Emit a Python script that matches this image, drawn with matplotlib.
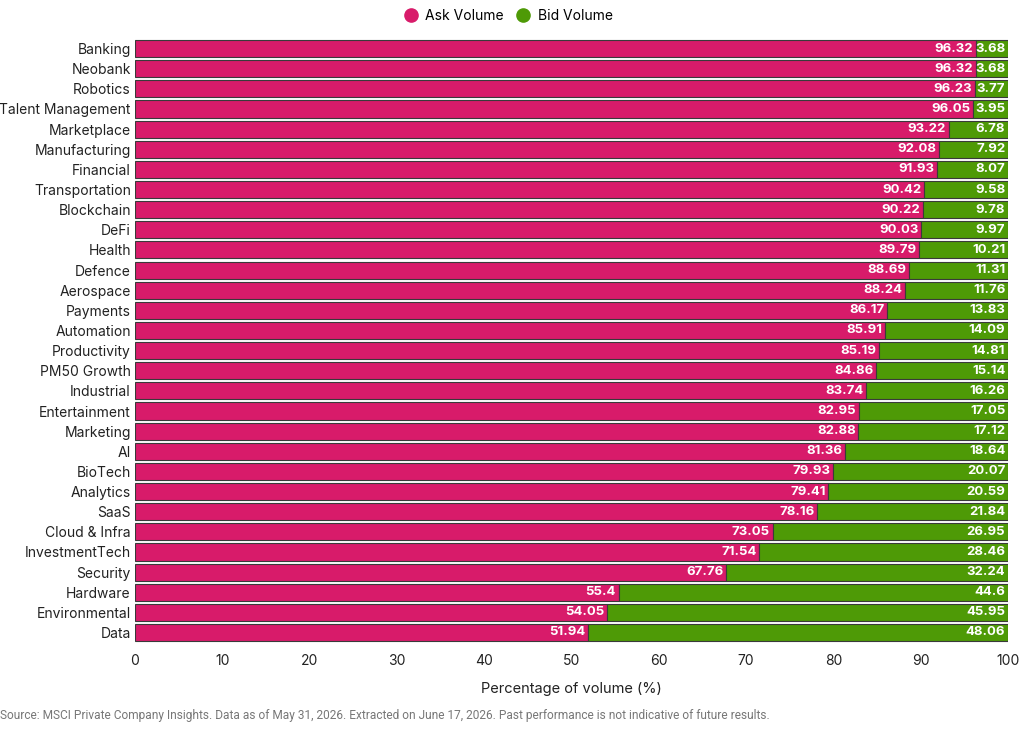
import matplotlib.pyplot as plt
from matplotlib.lines import Line2D

plt.rcParams['font.family'] = ['Inter', 'DejaVu Sans']

# data (top to bottom as shown)
sectors = ["Banking", "Neobank", "Robotics", "Talent Management", "Marketplace",
           "Manufacturing", "Financial", "Transportation", "Blockchain", "DeFi",
           "Health", "Defence", "Aerospace", "Payments", "Automation",
           "Productivity", "PM50 Growth", "Industrial", "Entertainment", "Marketing",
           "AI", "BioTech", "Analytics", "SaaS", "Cloud & Infra",
           "InvestmentTech", "Security", "Hardware", "Environmental", "Data"]
ask = [96.32, 96.32, 96.23, 96.05, 93.22, 92.08, 91.93, 90.42, 90.22, 90.03,
       89.79, 88.69, 88.24, 86.17, 85.91, 85.19, 84.86, 83.74, 82.95, 82.88,
       81.36, 79.93, 79.41, 78.16, 73.05, 71.54, 67.76, 55.4, 54.05, 51.94]
bid = [3.68, 3.68, 3.77, 3.95, 6.78, 7.92, 8.07, 9.58, 9.78, 9.97,
       10.21, 11.31, 11.76, 13.83, 14.09, 14.81, 15.14, 16.26, 17.05, 17.12,
       18.64, 20.07, 20.59, 21.84, 26.95, 28.46, 32.24, 44.6, 45.95, 48.06]

pink = '#D81B6A'
green = '#4E9A06'

fig = plt.figure(figsize=(10.24, 7.31), dpi=100)
ax = fig.add_axes([0.1318, 0.121, 0.8525, 0.8263])

y = list(range(len(sectors)))
ax.barh(y, ask, height=0.85, color=pink, edgecolor='#3a3a3a', linewidth=0.8)
ax.barh(y, bid, left=ask, height=0.85, color=green, edgecolor='#3a3a3a', linewidth=0.8)

for i in y:
    ax.text(ask[i] - 0.3, i, f"{ask[i]:g}", ha='right', va='center',
            color='white', fontsize=9.5, fontweight='bold')
    ax.text(ask[i] + bid[i] - 0.3, i, f"{bid[i]:g}", ha='right', va='center',
            color='white', fontsize=9.5, fontweight='bold')

ax.set_yticks(y)
ax.set_yticklabels(sectors, fontsize=10)
ax.set_ylim(len(sectors) - 0.5, -0.5)
ax.set_xlim(0, 100)
ax.set_xticks(range(0, 101, 10))
ax.tick_params(axis='both', length=0, labelsize=10, colors='#222222')
ax.tick_params(axis='x', pad=8)
ax.tick_params(axis='y', pad=3)
for s in ax.spines.values():
    s.set_visible(False)
ax.set_xlabel("Percentage of volume (%)", fontsize=10.5, labelpad=10, color='#222222')

handles = [Line2D([], [], marker='o', ls='', color=pink, markersize=9.5),
           Line2D([], [], marker='o', ls='', color=green, markersize=9.5)]
fig.legend(handles, ["Ask Volume", "Bid Volume"], loc='center', bbox_to_anchor=(0.493, 0.978),
           ncol=2, frameon=False, fontsize=10, handletextpad=0.05, columnspacing=0.4)

fig.text(0.0, 0.021, "Source: MSCI Private Company Insights. Data as of May 31, 2026. "
         "Extracted on June 17, 2026. Past performance is not indicative of future results.",
         fontsize=8.6, color='#777777', va='center', family=['Roboto', 'DejaVu Sans'])

fig.savefig('out.png', dpi=100)
